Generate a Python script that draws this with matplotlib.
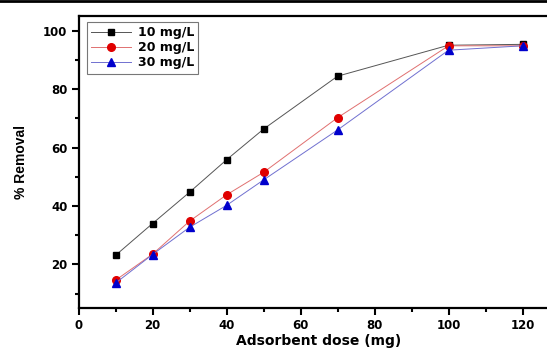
import matplotlib.pyplot as plt
from matplotlib.lines import Line2D
from matplotlib.ticker import MultipleLocator

# Data
dose = [10, 20, 30, 40, 50, 70, 100, 120]
removal_10 = [23.1, 34.0, 44.7, 55.8, 66.3, 84.4, 95.0, 95.3]
removal_20 = [14.6, 23.5, 34.8, 43.8, 51.5, 70.2, 94.8, 94.8]
removal_30 = [13.6, 23.4, 32.7, 40.2, 48.9, 66.0, 93.3, 94.8]
labels = ['10 mg/L', '20 mg/L', '30 mg/L']

plt.rcParams['font.family'] = ['DejaVu Sans']

fig = plt.figure(figsize=(5.47, 3.52), dpi=100)
ax = fig.add_axes([78.5 / 547, 43.7 / 352, 130 * 3.7 / 547, 292.3 / 352])

ax.plot(dose, removal_10, color='#555555', lw=0.7, marker='s', ms=5,
        mfc='black', mec='black', label=labels[0])
ax.plot(dose, removal_20, color='#e07070', lw=0.7, marker='o', ms=5.5,
        mfc='#e00000', mec='#e00000', label=labels[1])
ax.plot(dose, removal_30, color='#7070d0', lw=0.7, marker='^', ms=6,
        mfc='#0000cc', mec='#0000cc', label=labels[2])

ax.set_xlim(0, 130)
ax.set_ylim(5, 105)
ax.xaxis.set_major_locator(MultipleLocator(20))
ax.xaxis.set_minor_locator(MultipleLocator(10))
ax.yaxis.set_major_locator(MultipleLocator(20))
ax.yaxis.set_minor_locator(MultipleLocator(10))
ax.tick_params(which='both', direction='out', width=1.5, top=False, right=False)
ax.tick_params(which='major', length=5, labelsize=8.5, pad=3)
ax.tick_params(which='minor', length=3)
for lab in ax.get_xticklabels() + ax.get_yticklabels():
    lab.set_fontweight('bold')
for s in ['left', 'bottom', 'top']:
    ax.spines[s].set_linewidth(1.6)
ax.spines['right'].set_visible(False)

ax.set_xlabel('Adsorbent dose (mg)', fontsize=10, fontweight='bold', labelpad=1.5)
ax.set_ylabel('% Removal', fontsize=10, fontweight='bold', labelpad=11,
              family='Liberation Sans')

leg = ax.legend(loc='upper left', bbox_to_anchor=(87 / 547, 1 - 22 / 352),
                bbox_transform=fig.transFigure, borderaxespad=0,
                fancybox=False, edgecolor='#555555', handlelength=3.2,
                borderpad=0.35, labelspacing=0.15, handletextpad=0.5,
                prop={'weight': 'bold', 'size': 9})
leg.get_frame().set_linewidth(0.8)

# thin black border line at the top of the image
fig.add_artist(Line2D([0, 1], [0.997, 0.997], color='black', lw=2,
                      transform=fig.transFigure))

fig.savefig('out.png', dpi=100)
